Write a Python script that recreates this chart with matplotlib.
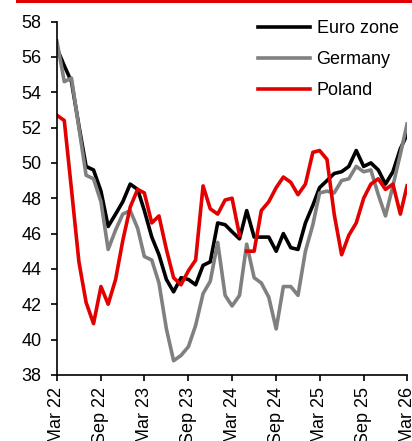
import matplotlib
matplotlib.use("Agg")
import matplotlib.pyplot as plt
from matplotlib.patches import Rectangle
import pandas as pd

plt.rcParams["font.family"] = ["Liberation Sans", "DejaVu Sans"]

# Manufacturing PMI, monthly Mar 22 - Mar 26
months = pd.date_range("2022-03-01", "2026-03-01", freq="MS")

euro_zone = [56.5, 55.5, 54.6, 52.1, 49.8, 49.6, 48.4, 46.4, 47.1, 47.8,
             48.8, 48.5, 47.3, 45.8, 44.8, 43.4, 42.7, 43.5, 43.4, 43.1, 44.2, 44.4,
             46.6, 46.5, 46.1, 45.7, 47.3, 45.8, 45.8, 45.8, 45.0, 46.0, 45.2, 45.1,
             46.6, 47.6, 48.6, 49.0, 49.4, 49.5, 49.8, 50.7, 49.8, 50.0, 49.6, 48.8,
             49.5, 50.8, 51.6]
germany = [56.9, 54.6, 54.8, 52.0, 49.3, 49.1, 47.8, 45.1, 46.2, 47.1,
           47.3, 46.3, 44.7, 44.5, 43.2, 40.6, 38.8, 39.1, 39.6, 40.8, 42.6, 43.3,
           45.5, 42.5, 41.9, 42.5, 45.4, 43.5, 43.2, 42.4, 40.6, 43.0, 43.0, 42.5,
           45.0, 46.5, 48.3, 48.4, 48.3, 49.0, 49.1, 49.8, 49.5, 49.6, 48.2, 47.0,
           48.7, 50.5, 52.2]
poland = [52.7, 52.4, 48.5, 44.4, 42.1, 40.9, 43.0, 42.0, 43.4, 45.6,
          47.5, 48.5, 48.3, 46.6, 47.0, 45.1, 43.5, 43.1, 43.9, 44.5, 48.7, 47.4,
          47.1, 47.9, 48.0, 45.9, 45.0, 45.0, 47.3, 47.8, 48.6, 49.2, 48.9, 48.2,
          48.8, 50.6, 50.7, 50.2, 47.1, 44.8, 45.9, 46.6, 48.0, 48.8, 49.1, 48.5,
          48.8, 47.1, 48.7]
# the Poland line has a break between Apr 24 and May 24
poland_break = 26

tick_dates = pd.date_range("2022-03-01", "2026-03-01", freq="6MS")
tick_labels = [d.strftime("%b %y") for d in tick_dates]

RED = "#e30000"
GREY = "#808080"
LW = 2.6

fig = plt.figure(figsize=(4.12, 4.41), dpi=100)
ax = fig.add_axes([0.138, 0.150, 0.850, 0.801])

ax.plot(months, euro_zone, color="black", lw=LW, label="Euro zone")
ax.plot(months, germany, color=GREY, lw=LW, label="Germany")
ax.plot(months[:poland_break], poland[:poland_break], color=RED, lw=LW, label="Poland")
ax.plot(months[poland_break:], poland[poland_break:], color=RED, lw=LW)

ax.set_ylim(38, 58)
ax.set_yticks(range(38, 59, 2))
ax.set_xlim(months[0], months[-1])
ax.set_xticks(tick_dates)
ax.set_xticklabels(tick_labels, rotation=90)

for side in ["top", "right"]:
    ax.spines[side].set_visible(False)
for side in ["left", "bottom"]:
    ax.spines[side].set_linewidth(1.2)
ax.tick_params(axis="both", labelsize=13, length=4, width=1.2, direction="out")
ax.tick_params(axis="y", pad=7)
ax.tick_params(axis="x", pad=5)

ax.legend(loc="upper left", bbox_to_anchor=(0.574, 1.005), frameon=False,
          fontsize=13, handlelength=2.9, handletextpad=0.35,
          labelspacing=0.78, borderpad=0, borderaxespad=0)

# red header bar
fig.patches.append(Rectangle((16 / 412, 1 - 3 / 441), 1, 3 / 441,
                             transform=fig.transFigure, color=RED, lw=0))

fig.savefig("out.png", dpi=100)
